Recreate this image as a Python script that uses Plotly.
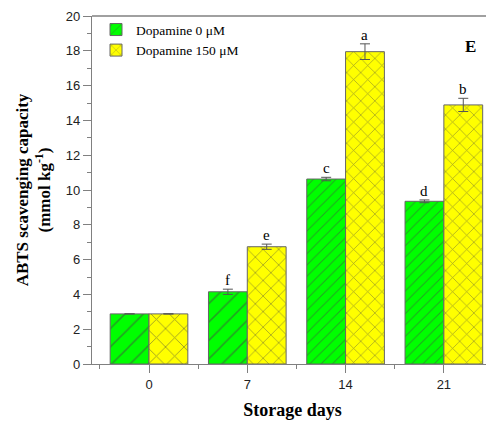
import plotly.graph_objects as go

days = ["0", "7", "14", "21"]
dop0 = [2.88, 4.15, 10.63, 9.35]
dop0_err = [None, 0.15, 0.10, 0.08]
dop150 = [2.88, 6.74, 17.95, 14.89]
dop150_err = [None, 0.15, 0.45, 0.38]
letters0 = ["", "f", "c", "d"]
letters150 = ["", "e", "a", "b"]

xpos = list(range(len(days)))
bargap = 0.21
half = (1 - bargap) / 4  # centre offset of each bar in a 2-bar group

fig = go.Figure()
fig.add_trace(go.Bar(
    x=xpos, y=dop0, name="Dopamine 0 μM",
    marker=dict(color="#00FF00", line=dict(color="#666666", width=1),
                pattern=dict(shape="/", fgcolor="#444444", size=[13, 13, 8, 8], solidity=0.12)),
    error_y=dict(type="data", array=dop0_err, color="#555555", thickness=1, width=5),
))
fig.add_trace(go.Bar(
    x=xpos, y=dop150, name="Dopamine 150 μM",
    marker=dict(color="#FFFF00", line=dict(color="#666666", width=1),
                pattern=dict(shape="x", fgcolor="#444444", size=[13, 11, 10, 10], solidity=0.14)),
    error_y=dict(type="data", array=dop150_err, color="#555555", thickness=1, width=5),
))

for i in xpos:
    for off, vals, errs, labs in [(-half, dop0, dop0_err, letters0), (half, dop150, dop150_err, letters150)]:
        if labs[i]:
            fig.add_annotation(x=i + off, y=vals[i] + (errs[i] or 0), text=labs[i], showarrow=False,
                               yanchor="bottom", yshift=-1,
                               font=dict(family="Liberation Serif", size=15, color="black"))

fig.add_annotation(xref="paper", yref="paper", x=0.963, y=0.945, text="<b>E</b>", showarrow=False,
                   font=dict(family="Liberation Serif", size=17, color="black"))
fig.add_shape(type="line", xref="paper", yref="paper", x0=0, x1=1.01, y0=1, y1=1,
              line=dict(color="#808080", width=1.3))

# page body has an 8px margin, so figure is shrunk/offset to place the plot area at the reference spot
fig.update_layout(
    width=486, height=414,
    margin=dict(l=84, r=1, t=8, b=58),
    plot_bgcolor="white", paper_bgcolor="white",
    barmode="group", bargap=bargap, bargroupgap=0,
    showlegend=True,
    legend=dict(x=0.01, y=1.005, xanchor="left", yanchor="top", bgcolor="rgba(0,0,0,0)",
                font=dict(family="Liberation Serif", size=13.5, color="black"),
                tracegroupgap=0, itemwidth=30),
    xaxis=dict(range=[-0.58, 3.5], tickmode="array", tickvals=xpos, ticktext=days,
               ticks="outside", ticklen=8, tickcolor="#808080", showline=True,
               linecolor="#808080", linewidth=1.3, showgrid=False, zeroline=False,
               tickfont=dict(family="Liberation Sans", size=13, color="#222222"),
               minor=dict(tickvals=[-0.5, 0.5, 1.5, 2.5, 3.5], ticks="outside", ticklen=4,
                          tickcolor="#808080"),
               title=dict(text="<b>Storage days</b>", standoff=12,
                          font=dict(family="Liberation Serif", size=18, color="black"))),
    yaxis=dict(range=[0, 20], dtick=2, ticks="outside", ticklen=8, tickcolor="#808080",
               showline=True, linecolor="#808080", linewidth=1.3, showgrid=False, zeroline=False,
               tickfont=dict(family="Liberation Sans", size=13, color="#222222"),
               minor=dict(dtick=1, ticks="outside", ticklen=4, tickcolor="#808080"),
               title=dict(text="<b>ABTS scavenging capacity<br>(mmol kg<sup>-1</sup>)</b>", standoff=10,
                          font=dict(family="Liberation Serif", size=17, color="black"))),
)

fig.write_html("out.html")
